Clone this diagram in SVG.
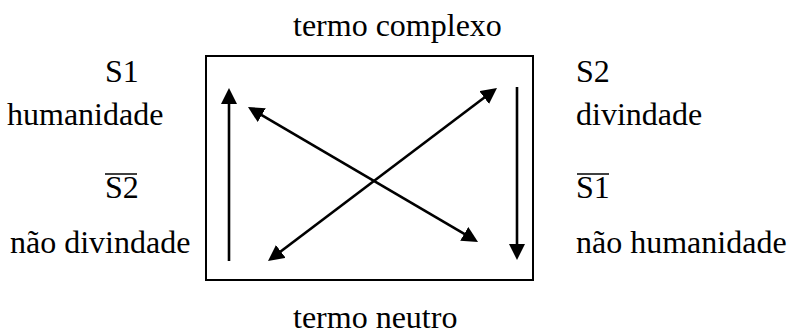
<svg xmlns="http://www.w3.org/2000/svg" width="790" height="335" viewBox="0 0 790 335">
  <style>
    text { font-family: 'Liberation Serif', 'DejaVu Serif', 'Times New Roman', serif; font-size: 32px; fill: #000; }
    .box { fill: none; stroke: #000; stroke-width: 2; }
    .arr { fill: none; stroke: #000; stroke-width: 2.6; }
    .bar { stroke: #000; stroke-width: 1.5; }
  </style>
  <defs>
    <marker id="ah" markerUnits="userSpaceOnUse" markerWidth="16" markerHeight="16" refX="6" refY="8" orient="auto-start-reverse">
      <path d="M0,0 L16,8 L0,16 z" fill="#000"/>
    </marker>
  </defs>
  <rect fill="#fff" width="790" height="335"/>
  <g id="top-label"><text x="293" y="36">termo complexo</text></g>
  <g id="bottom-label"><text x="293" y="328">termo neutro</text></g>
  <g id="s1">
    <text x="105" y="82">S1</text>
    <text x="7" y="125">humanidade</text>
  </g>
  <g id="not-s2">
    <line class="bar" x1="105" y1="174" x2="137" y2="174"/>
    <text x="105" y="198">S2</text>
    <text x="10" y="253">não divindade</text>
  </g>
  <g id="s2">
    <text x="576" y="82">S2</text>
    <text x="576" y="125">divindade</text>
  </g>
  <g id="not-s1">
    <line class="bar" x1="577" y1="174" x2="609" y2="174"/>
    <text x="576" y="198">S1</text>
    <text x="576" y="253">não humanidade</text>
  </g>
  <g id="square"><rect class="box" x="206" y="56" width="327" height="224"/></g>
  <g id="connectors">
    <line class="arr" x1="229" y1="261" x2="229" y2="98" marker-end="url(#ah)"/>
    <line class="arr" x1="517" y1="87" x2="517" y2="250" marker-end="url(#ah)"/>
    <line class="arr" x1="256.6" y1="112.1" x2="469.4" y2="236.9" marker-start="url(#ah)" marker-end="url(#ah)"/>
    <line class="arr" x1="489" y1="94" x2="276" y2="255" marker-start="url(#ah)" marker-end="url(#ah)"/>
  </g>
</svg>
